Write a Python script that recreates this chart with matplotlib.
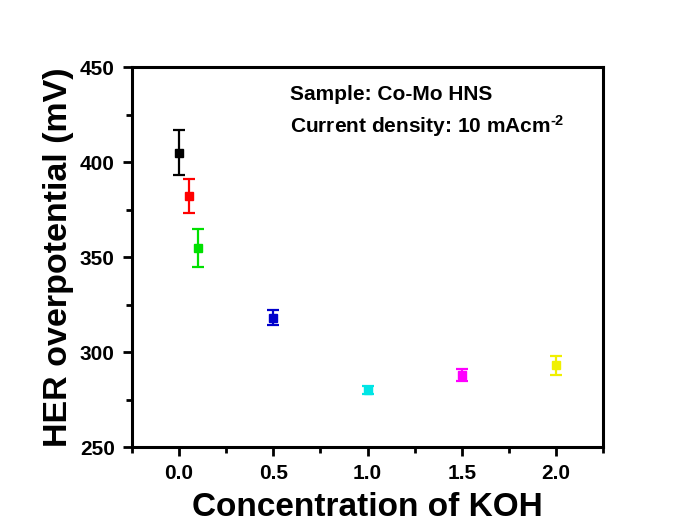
import matplotlib
matplotlib.use("Agg")
import matplotlib.pyplot as plt
from matplotlib.ticker import MultipleLocator

plt.rcParams['font.family'] = ['Liberation Sans', 'DejaVu Sans']
plt.rcParams['font.weight'] = 'bold'
plt.rcParams['mathtext.fontset'] = 'custom'
plt.rcParams['mathtext.rm'] = 'Liberation Sans:bold'
plt.rcParams['mathtext.bf'] = 'Liberation Sans:bold'
plt.rcParams['mathtext.default'] = 'bf'

conc = [0.0, 0.05, 0.1, 0.5, 1.0, 1.5, 2.0]
overpot = [405, 382, 355, 318, 280, 288, 293]
err = [12, 9, 10, 4, 2, 3, 5]
colors = ['#000000', '#FF0000', '#00E000', '#0000CC', '#00E5E5', '#FF00FF', '#F0F000']

fig = plt.figure(figsize=(6.89, 5.29), dpi=100)
ax = fig.add_axes([0.1916, 0.155, 0.6836, 0.7183])

for x, y, e, c in zip(conc, overpot, err, colors):
    ax.errorbar(x, y, yerr=e, fmt='s', color=c, ecolor=c, markersize=5.5,
                capsize=4.5, elinewidth=1.6, capthick=1.6)

ax.set_xlim(-0.25, 2.25)
ax.set_ylim(250, 450)
ax.xaxis.set_major_locator(MultipleLocator(0.5))
ax.xaxis.set_minor_locator(MultipleLocator(0.25))
ax.yaxis.set_major_locator(MultipleLocator(50))
ax.yaxis.set_minor_locator(MultipleLocator(25))
ax.tick_params(which='both', direction='out', width=2, top=False, right=False)
ax.tick_params(which='major', length=6.5, labelsize=15, pad=6)
ax.tick_params(which='minor', length=4)
for lab in ax.get_xticklabels() + ax.get_yticklabels():
    lab.set_fontweight('bold')
for s in ax.spines.values():
    s.set_linewidth(2.2)

ax.set_xlabel('Concentration of KOH', fontsize=24, fontweight='bold', labelpad=6)
ax.set_ylabel('HER overpotential (mV)', fontsize=24.5, fontweight='bold', labelpad=4)

ax.text(0.335, 0.929, 'Sample: Co-Mo HNS', transform=ax.transAxes, fontsize=15,
        fontweight='bold', va='center', ha='left')
ax.text(0.335, 0.845, 'Current density: 10 mAcm$^{\\text{-2}}$', transform=ax.transAxes,
        fontsize=15, fontweight='bold', va='center', ha='left')

fig.savefig('out.png', dpi=100)
